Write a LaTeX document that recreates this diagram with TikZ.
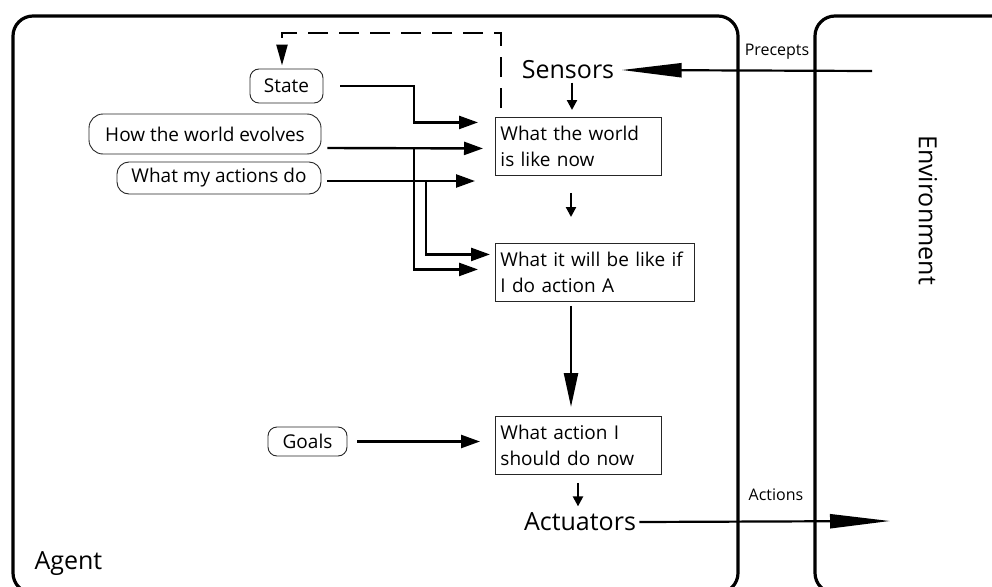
\documentclass[tikz,border=0pt]{standalone}
\usepackage{fontspec}
\setmainfont{Open Sans}
\usetikzlibrary{arrows.meta}

\begin{document}
\begin{tikzpicture}[x=1pt, y=-1pt,
    frame/.style={line width=3.2pt, rounded corners=20pt},
    box/.style={draw=black!85, line width=0.9pt, anchor=north west, align=left,
        inner xsep=5pt, minimum height=58pt, font=\fontsize{19}{26}\selectfont},
    pill/.style={draw=black!85, line width=0.9pt, rounded corners=9pt, inner sep=0pt,
        font=\fontsize{19}{24}\selectfont},
    big/.style={font=\fontsize{25}{30}\selectfont},
    small/.style={font=\fontsize{16}{20}\selectfont},
    wire/.style={line width=2.4pt, -{Triangle[length=19pt,width=13pt]}},
    hop/.style={line width=2.2pt, -{Triangle[length=10pt,width=10pt]}},
    longhop/.style={line width=2.4pt, -{Triangle[length=34pt,width=14pt]}},
    far/.style={line width=2.2pt, -{Triangle[length=60pt,width=14pt]}},
    memory/.style={line width=2.4pt, dash pattern=on 20pt off 11pt,
        -{Triangle[length=21pt,width=11pt]}}]
            \useasboundingbox (0,0) rectangle (992,586);
            \clip (0,0) rectangle (992,586);

            % agent and environment frames
            \draw[frame] (13,16) rectangle (738,593);
            \draw[frame] (815,16) rectangle (1030,593);
            \node[big, anchor=west] (agentlbl) at (31,564) {Agent};
            \node[big, rotate=-90] (envlbl) at (928,210) {Environment};
            \node[small] (perceptlbl) at (777,52) {Precepts};
            \node[small] (actionlbl) at (776,495) {Actions};

            % inner chain
            \node[big] (sensors) at (568,70) {Sensors};
            \node[box, text width=156pt] (worldnow) at (495,117) {What the world\\is like now};
            \node[box, text width=189pt] (worldnext) at (495,243) {What it will be like if\\I do action A};
            \node[box, text width=156pt] (choice) at (495,416) {What action I\\should do now};
            \node[big] (actuators) at (580,522) {Actuators};

            % knowledge
            \node[pill, minimum width=73pt, minimum height=34pt] (state) at (286.5,86) {State};
            \node[pill, minimum width=232pt, minimum height=40pt, rounded corners=14pt] (evolves) at (205,134) {How the world evolves};
            \node[pill, minimum width=204pt, minimum height=32pt, rounded corners=12pt] (effects) at (219,178) {What my actions do};
            \node[pill, minimum width=79pt, minimum height=29pt] (goals) at (307.5,441.5) {Goals};

            \coordinate (envin) at (872,71);
            \coordinate (envout) at (890,521);
            \coordinate (spine) at (571,0);
            \coordinate (tapA) at (414,0);
            \coordinate (tapB) at (426,0);
            \coordinate (memtop) at (282,33);

            \draw[far] (envin) -- ([xshift=4pt]sensors.east); % env-sensors
            \draw[far] (actuators.east) -- (envout); % actuators-env
            \draw[hop, shorten >=7pt] ([xshift=4pt]sensors.south) -- ([xshift=4pt]sensors.south |- worldnow.north); % sensors-now
            \draw[hop, shorten <=17pt, shorten >=26pt] (worldnow.south -| spine) -- (worldnext.north -| spine); % now-next
            \draw[longhop, shorten <=4pt, shorten >=9pt] (worldnext.south -| spine) -- (choice.north -| spine); % next-choice
            \draw[hop, shorten <=8pt, shorten >=3pt] ([xshift=-2pt]choice.south -| actuators.north) -- ([xshift=-2pt]actuators.north); % choice-actuators

            \draw[wire] ([xshift=17pt]state.east) -| ([yshift=24pt]worldnow.west -| tapA) -- ([xshift=-17pt,yshift=24pt]worldnow.west); % state-now
            \draw[wire] ([xshift=6pt,yshift=-14pt]evolves.east) -- ([xshift=-12pt,yshift=-2pt]worldnow.west); % evolves-now
            \draw[wire] ([yshift=-14pt]evolves.east -| tapA) |- ([xshift=-17pt,yshift=3pt]worldnext.west); % evolves-next
            \draw[wire] ([xshift=6pt,yshift=-3pt]effects.east) -- ([xshift=-20pt,yshift=-3pt]effects.east -| worldnow.west); % effects
            \draw[wire] ([yshift=-3pt]effects.east -| tapB) |- ([xshift=-5pt,yshift=18pt]worldnext.west); % effects-next
            \draw[wire] ([xshift=10pt]goals.east) -- ([xshift=-15pt]goals.east -| choice.west); % goals-choice
            \draw[memory] ([xshift=6pt,yshift=9pt]worldnow.north west) |- (memtop) -- ([xshift=-4.5pt,yshift=3pt]state.north); % now-state
        \end{tikzpicture}
\end{document}
